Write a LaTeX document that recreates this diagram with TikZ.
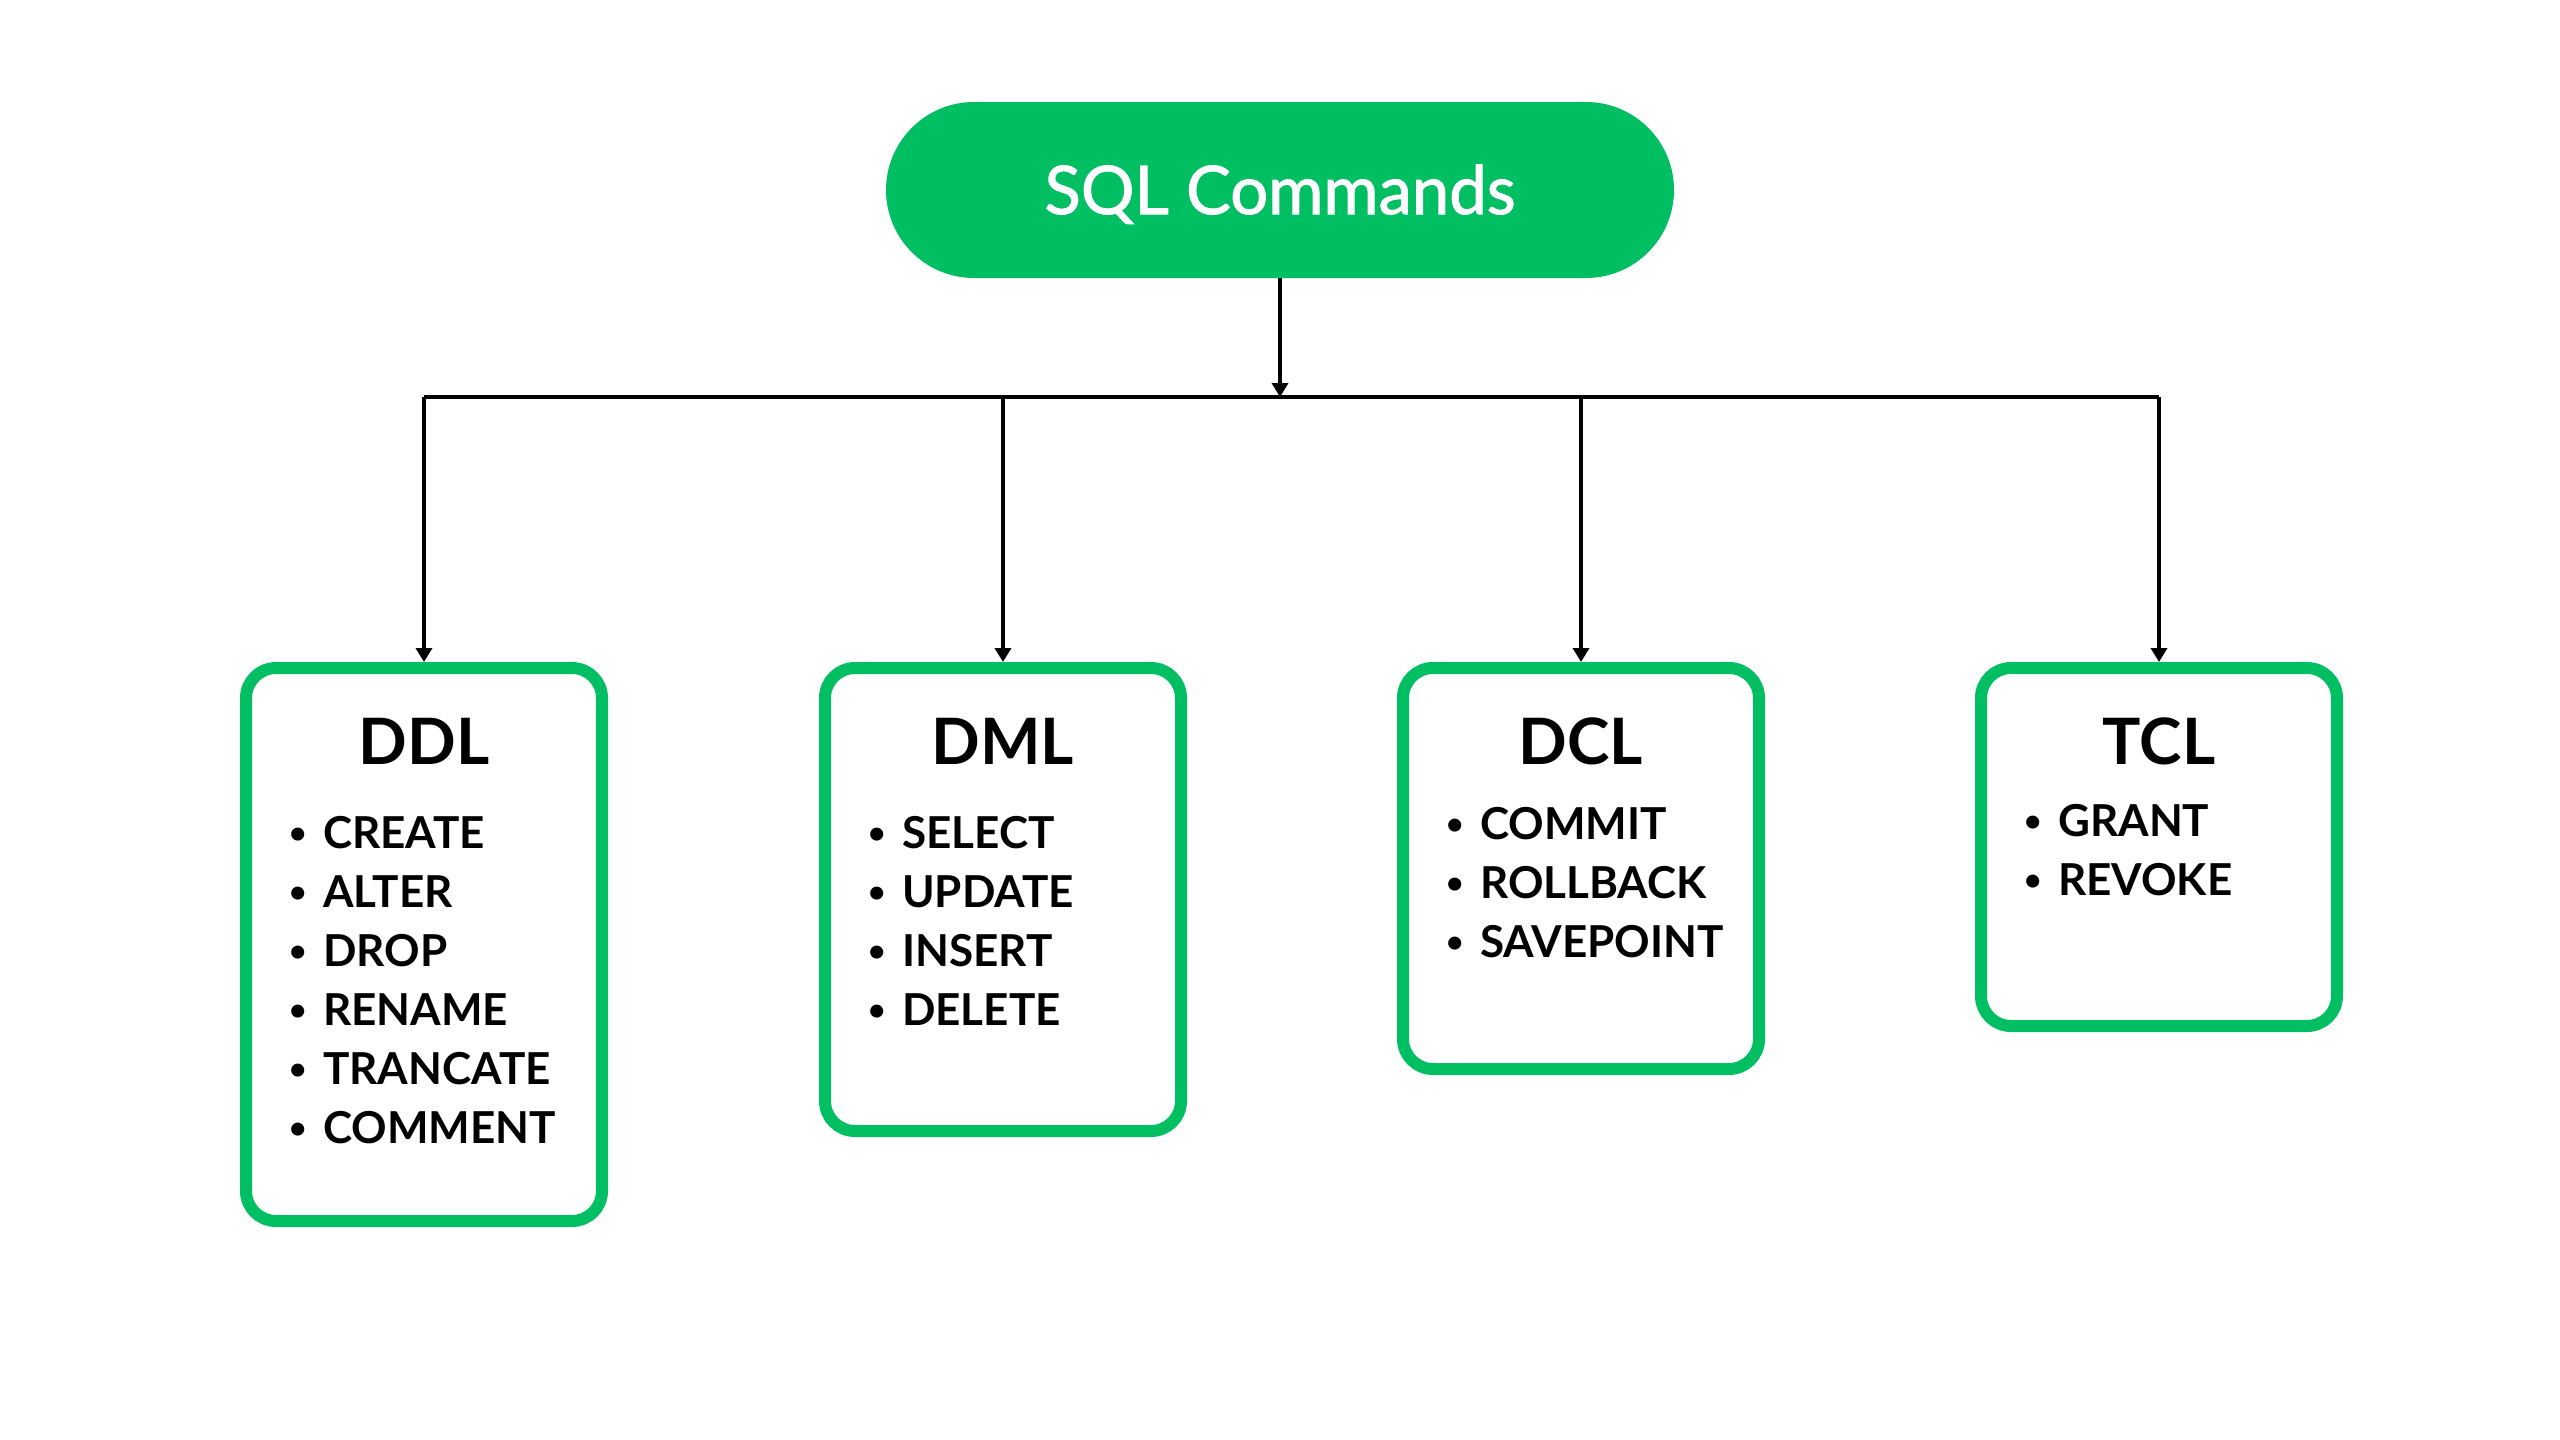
\documentclass[tikz,border=0pt]{standalone}
\usepackage{fontspec}
\setmainfont{Lato}
\newfontfamily\pillfont[FakeBold=1.5]{Lato}
\usetikzlibrary{arrows.meta}
\definecolor{sqlgreen}{RGB}{0,191,99}
\tikzset{pill/.style={fill=sqlgreen, text=white, rounded corners=88pt,
    minimum width=788pt, minimum height=176pt, inner sep=0pt,
    text height=48pt, text depth=0pt,
    font=\pillfont\fontsize{67}{67}\selectfont}}
\tikzset{group/.style={draw=sqlgreen, line width=12pt, rounded corners=30pt,
    minimum width=356pt, inner sep=0pt, anchor=north}}
\tikzset{grouptitle/.style={anchor=base, inner sep=0pt,
    font=\bfseries\fontsize{64}{64}\selectfont}}
\tikzset{item/.style={anchor=base west, inner sep=0pt,
    font=\bfseries\fontsize{44}{44}\selectfont}}
\tikzset{wire/.style={line width=4pt}}
\tikzset{feed/.style={wire, -{Triangle[length=14pt,width=16pt]}}}
\newcommand{\bul}[1]{\makebox[34pt][l]{\raisebox{5pt}{\fontsize{30}{30}\selectfont\textbullet}}#1}

\begin{document}
\begin{tikzpicture}[x=1pt,y=-1pt]
  \useasboundingbox (0,0) rectangle (2560,1440);
    \node[pill] (root) at (1280,190) {SQL Commands};
    \coordinate (bus) at (1280,397);

    \node[group, minimum height=553pt] (ddl) at (424,662) {};
    \node[group, minimum height=463pt] (dml) at (1003,662) {};
    \node[group, minimum height=401pt] (dcl) at (1581,662) {};
    \node[group, minimum height=358pt] (tcl) at (2159,662) {};

    \node[grouptitle] (ddl-title) at ([yshift=-102pt]ddl.north) {DDL};
    \node[grouptitle] (dml-title) at ([yshift=-102pt]dml.north) {DML};
    \node[grouptitle] (dcl-title) at ([yshift=-102pt]dcl.north) {DCL};
    \node[grouptitle] (tcl-title) at ([yshift=-102pt]tcl.north) {TCL};

    \foreach \cmd [count=\i] in {CREATE,ALTER,DROP,RENAME,TRANCATE,COMMENT}
      \node[item] (ddl-\i) at ([shift={(49,186+59*\i-59)}]ddl.north west) {\bul{\cmd}};
    \foreach \cmd [count=\i] in {SELECT,UPDATE,INSERT,DELETE}
      \node[item] (dml-\i) at ([shift={(49,186+59*\i-59)}]dml.north west) {\bul{\cmd}};
    \foreach \cmd [count=\i] in {COMMIT,ROLLBACK,SAVEPOINT}
      \node[item] (dcl-\i) at ([shift={(49,177+59*\i-59)}]dcl.north west) {\bul{\cmd}};
    \foreach \cmd [count=\i] in {GRANT,REVOKE}
      \node[item] (tcl-\i) at ([shift={(49,174+59*\i-59)}]tcl.north west) {\bul{\cmd}};

    \draw[feed] (root) -- (bus);
    \draw[wire] (ddl.north |- bus) -- (tcl.north |- bus);
    \draw[feed] (ddl.north |- bus) -- (ddl.north);
    \draw[feed] (dml.north |- bus) -- (dml.north);
    \draw[feed] (dcl.north |- bus) -- (dcl.north);
    \draw[feed] (tcl.north |- bus) -- (tcl.north);
  \end{tikzpicture}
\end{document}
